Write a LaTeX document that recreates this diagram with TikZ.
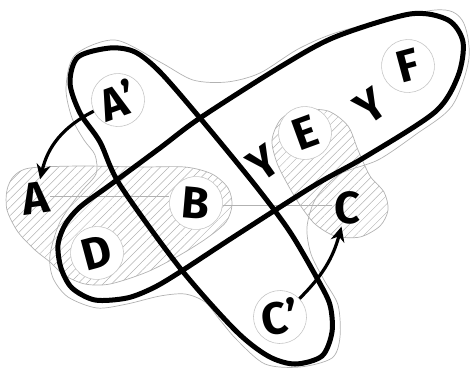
\documentclass[tikz,border=0pt]{standalone}
\usepackage{fontspec}
\setmainfont{Fira Sans}
\usetikzlibrary{arrows.meta,patterns.meta}

\begin{document}
\begin{tikzpicture}[x=1pt,y=-1pt,
  letter/.style={font=\fontsize{45}{45}\selectfont\bfseries,inner sep=2pt},
  ring/.style={letter,circle,inner sep=0pt,draw=gray!45,line width=0.6pt,fill=white,minimum size=53pt},
  bigloop/.style={line width=5pt,line join=round},
  edge/.style={draw=gray!60,line width=0.7pt},
  hatch/.style={edge,pattern={Lines[angle=45,distance=6pt,line width=0.5pt]},pattern color=gray!60},
  arr/.style={line width=3.2pt,-{Stealth[length=15pt,width=14pt]}}]
\useasboundingbox (0,0) rectangle (470,370);

\draw[edge] plot[smooth cycle] coordinates {(75,55) (115,40) (160,62) (193,80) (227,82) (260,73) (300,48) (345,30) (435,10) (462,20) (469,58) (452,106) (415,135) (378,160) (340,174) (316,198) (307,227) (311,254) (324,280) (338,305) (340,337) (332,358) (300,367) (265,364) (237,340) (220,320) (205,302) (185,294) (160,296) (127,304) (97,308) (68,297) (53,278) (50,255) (60,222) (80,193) (96,174) (95,155) (84,140) (72,118) (66,88)};

\draw[hatch] plot[smooth cycle] coordinates {(14,176) (30,168) (80,166) (140,167) (185,167) (212,174) (228,188) (232,205) (226,222) (207,238) (180,255) (147,272) (110,284) (85,284) (64,275) (50,262) (35,250) (18,232) (7,210) (7,190)};
\draw[hatch] plot[smooth cycle] coordinates {(300,110) (328,111) (348,126) (358,150) (370,176) (384,192) (388,210) (380,226) (360,237) (335,236) (315,224) (300,205) (288,185) (277,163) (272,140) (281,119)};

\node[ring,rotate=20] (Ap) at (118,100) {A'};
\node[ring,rotate=-5] (B) at (196,203) {B};
\node[ring,rotate=15] (D) at (97,253) {D};
\node[ring,rotate=20] (E) at (305,133) {E};
\node[ring,rotate=15] (F) at (408,66) {F};
\node[ring,rotate=10] (Cp) at (280,317) {C'};
\node[letter,rotate=8] (A) at (35,198) {A};
\node[letter] (C) at (347,208) {C};
\node[letter,rotate=35] (Y1) at (263,163) {Y};
\node[letter,rotate=35] (Y2) at (370,106) {Y};

\draw[edge] (A.east) -- (A.east -| B.west);
\draw[edge] (B.east) -- (B.east -| C.west);

\draw[bigloop] plot[smooth cycle] coordinates {(110,48) (135,52) (160,72) (200,118) (255,185) (290,232) (318,280) (330,305) (332,332) (322,356) (295,364) (268,356) (235,330) (180,268) (120,185) (100,142) (80,113) (70,83) (78,57)};
\draw[bigloop] plot[smooth cycle] coordinates {(58,245) (61,268) (72,288) (95,300) (127,298) (153,288) (180,272) (235,236) (315,185) (365,157) (435,112) (458,76) (463,42) (448,20) (410,14) (335,37) (280,67) (200,118) (160,148) (110,185) (80,207) (65,225)};

\draw[arr] (Ap) to[bend right=25] (A);
\draw[arr] (Cp) to[bend right=15] (C);
\end{tikzpicture}
\end{document}
